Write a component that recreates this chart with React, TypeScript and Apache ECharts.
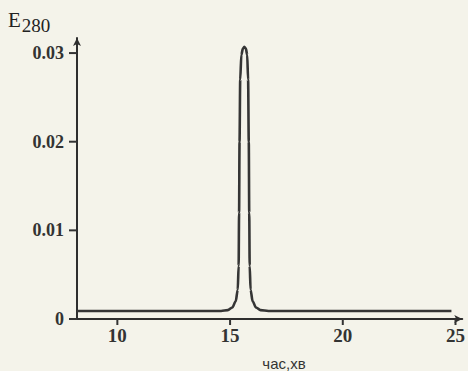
import React, { useEffect, useRef } from "react";
import * as echarts from "echarts";

const timeMin = [8.21, 10, 12, 14, 14.6, 14.9, 15.1, 15.25, 15.34, 15.38, 15.4, 15.42, 15.45, 15.5, 15.57, 15.63, 15.7, 15.76, 15.8, 15.83, 15.85, 15.87, 15.91, 16.0, 16.15, 16.35, 16.7, 18, 20, 22, 24.82];
const absorbance = [0.0009, 0.0009, 0.0009, 0.0009, 0.0009, 0.001, 0.0013, 0.002, 0.0033, 0.006, 0.012, 0.02, 0.027, 0.0298, 0.0305, 0.0307, 0.0305, 0.0298, 0.027, 0.02, 0.012, 0.006, 0.0033, 0.002, 0.0013, 0.001, 0.0009, 0.0009, 0.0009, 0.0009, 0.0009];
const xTicks = [10, 15, 20, 25];
const yTicks = [0, 0.01, 0.02, 0.03];
const xTitle = "час,хв";
const xMin = 8.21;
const xMax = 25.3;

export default function App() {
  const ref = useRef<HTMLDivElement>(null);
  useEffect(() => {
    document.body.style.margin = "0";
    const chart = echarts.init(ref.current!, null, { renderer: "svg" });
    const ink = "#2e2e2e";
    const tickData = [
      ...xTicks.map((v) => [v, 0, 0]),
      ...yTicks.map((v) => [xMin, v, 1]),
    ];
    chart.setOption({
      animation: false,
      backgroundColor: "#f4f3ea",
      grid: { left: 77, right: 1, top: 38, bottom: 52 },
      xAxis: {
        type: "value",
        min: xMin,
        max: xMax,
        axisLine: { show: true, lineStyle: { color: ink, width: 2 }, symbol: ["none", "arrow"], symbolSize: [6, 8] },
        axisTick: { show: false },
        axisLabel: {
          customValues: xTicks,
          margin: 7,
          color: "#333",
          fontFamily: "Liberation Serif",
          fontWeight: "bold",
          fontSize: 19,
        },
        splitLine: { show: false },
      },
      yAxis: {
        type: "value",
        min: 0,
        max: 0.0317,
        axisLine: { show: true, lineStyle: { color: ink, width: 2 }, symbol: ["none", "arrow"], symbolSize: [6, 8] },
        axisTick: { show: false },
        axisLabel: {
          customValues: yTicks,
          margin: 13,
          color: "#333",
          fontFamily: "Liberation Serif",
          fontWeight: "bold",
          fontSize: 18,
          formatter: (v: number) => (v === 0 ? "0" : v.toFixed(2)),
        },
        splitLine: { show: false },
      },
      graphic: [
        {
          type: "text",
          left: 8,
          top: 9,
          style: {
            text: "{e|E}{s|280}",
            rich: {
              e: { fontFamily: "Liberation Serif", fontSize: 21, fill: "#222" },
              s: { fontFamily: "Liberation Serif", fontSize: 19, fill: "#222", padding: [12, 0, 0, 1] },
            },
          },
        },
        {
          type: "text",
          x: 284,
          y: 363,
          style: {
            text: xTitle,
            fontFamily: "Liberation Sans",
            fontSize: 15,
            fill: "#333",
            align: "center",
            verticalAlign: "middle",
          },
        },
      ],
      series: [
        {
          type: "line",
          data: timeMin.map((t, i) => [t, absorbance[i]]),
          showSymbol: false,
          smooth: 0.3,
          smoothMonotone: "x",
          lineStyle: { color: "#353535", width: 2.6 },
          z: 3,
        },
        {
          type: "custom",
          clip: false,
          silent: true,
          z: 4,
          encode: { x: 0, y: 1 },
          data: tickData,
          renderItem: (_params: any, api: any) => {
            const kind = api.value(2);
            const p = api.coord([api.value(0), api.value(1)]);
            if (kind === 0) {
              return {
                type: "rect",
                shape: { x: p[0] - 1, y: p[1], width: 2, height: 6 },
                style: { fill: "#333333" },
              };
            }
            return {
              type: "rect",
              shape: { x: p[0] - 8, y: p[1] - 1, width: 8, height: 2 },
              style: { fill: "#333333" },
            };
          },
        },
      ],
    });
    return () => chart.dispose();
  }, []);
  return <div ref={ref} style={{ width: 468, height: 371 }} />;
}
